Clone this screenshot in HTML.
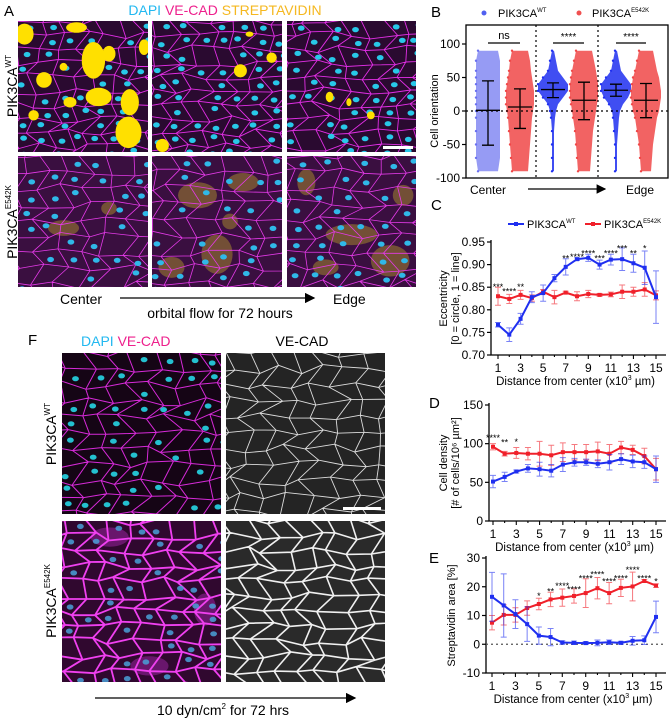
<!DOCTYPE html>
<html><head><meta charset="utf-8">
<style>
html,body{margin:0;padding:0;background:#fff;}
svg{display:block;font-family:"Liberation Sans",Arial,sans-serif;}
</style></head>
<body>
<svg id="fig" width="670" height="720" viewBox="0 0 670 720" xmlns="http://www.w3.org/2000/svg">
<defs>
<marker id="arr" markerWidth="8" markerHeight="8" refX="7" refY="4" orient="auto"><path d="M0,0 L8,4 L0,8 z" fill="#000"/></marker>
</defs>
<text x="4" y="16" font-size="15">A</text>
<text x="431" y="17" font-size="15">B</text>
<text x="431" y="210" font-size="15">C</text>
<text x="429" y="408" font-size="15">D</text>
<text x="429" y="563" font-size="15">E</text>
<text x="28" y="345" font-size="15">F</text>

<text x="225" y="15" font-size="14" text-anchor="middle"><tspan fill="#22b8f0">DAPI</tspan> <tspan fill="#ee1f8c">VE-CAD</tspan> <tspan fill="#f5b820">STREPTAVIDIN</tspan></text>
<text transform="translate(17,86) rotate(-90)" font-size="14" text-anchor="middle">PIK3CA<tspan font-size="8" dy="-6">WT</tspan></text>
<text transform="translate(17,222) rotate(-90)" font-size="14" text-anchor="middle">PIK3CA<tspan font-size="8" dy="-6">E542K</tspan></text>
<g id="imgsA"></g>
<text x="60" y="304" font-size="14">Center</text>
<line x1="120" y1="298" x2="314" y2="298" stroke="#000" stroke-width="1.3" marker-end="url(#arr)"/>
<text x="333" y="304" font-size="14">Edge</text>
<text x="220" y="318" font-size="14" text-anchor="middle">orbital flow for 72 hours</text>

<text x="81" y="346" font-size="14"><tspan fill="#22b8f0">DAPI</tspan> <tspan fill="#ee1f8c">VE-CAD</tspan></text>
<text x="302" y="346" font-size="14" text-anchor="middle">VE-CAD</text>
<text transform="translate(56,434) rotate(-90)" font-size="14" text-anchor="middle">PIK3CA<tspan font-size="8" dy="-6">WT</tspan></text>
<text transform="translate(56,601) rotate(-90)" font-size="14" text-anchor="middle">PIK3CA<tspan font-size="8" dy="-6">E542K</tspan></text>
<g id="imgsF"></g>
<line x1="95" y1="698" x2="355" y2="698" stroke="#000" stroke-width="1.3" marker-end="url(#arr)"/>
<text x="223" y="715" font-size="14" text-anchor="middle">10 dyn/cm<tspan font-size="8" dy="-6">2</tspan><tspan dy="6"> for 72 hrs</tspan></text>

<g id="panelB"></g>
<g id="panelC"></g>
<g id="panelD"></g>
<g id="panelE"></g>
</svg>
<script>
const bGroups = ["Center-WT","Center-E542K","Mid-WT","Mid-E542K","Edge-WT","Edge-E542K"];
const bMeans = [1, 6, 32, 16, 31, 16];
const bLow = [-51, -26, 20, -13, 22, -10];
const bHigh = [45, 33, 42, 43, 40, 41];
const bLevels = [-90, -70, -50, -30, -10, 0, 10, 20, 30, 40, 50, 60, 75, 90];
const bWidthWT_C = [10, 12, 12, 12, 12, 12, 12, 12, 12, 12, 12, 12, 12, 10];
const bWidthMut_C = [8, 9, 10, 11, 12, 13, 14, 14, 14, 13, 12, 11, 10, 8];
const bWidthWT_M = [1, 1, 1, 1, 2, 3, 5, 10, 15, 15, 10, 5, 3, 1];
const bWidthMut_M = [6, 7, 8, 9, 11, 12, 13, 14, 14, 14, 13, 12, 10, 8];
const bWidthWT_E = [1, 1, 1, 2, 3, 4, 7, 12, 15, 15, 10, 5, 3, 1];
const bWidthMut_E = [5, 6, 7, 9, 11, 13, 14, 15, 15, 14, 13, 11, 9, 7];
const bSig = ["ns", "****", "****"];
const bTicks = [100, 50, 0, -50, -100];

const dist = [1,2,3,4,5,6,7,8,9,10,11,12,13,14,15];
const distTicks = [1,3,5,7,9,11,13,15];

const cWT = [0.767,0.745,0.780,0.828,0.837,0.870,0.895,0.912,0.915,0.900,0.911,0.912,0.903,0.893,0.828];
const cWTerr = [0.005,0.015,0.012,0.012,0.018,0.008,0.018,0.003,0.008,0.010,0.012,0.025,0.020,0.037,0.058];
const cMut = [0.830,0.824,0.833,0.826,0.840,0.828,0.838,0.830,0.835,0.833,0.834,0.840,0.840,0.845,0.832];
const cMutErr = [0.020,0.010,0.010,0.007,0.005,0.015,0.003,0.010,0.008,0.003,0.005,0.015,0.010,0.015,0.010];
const cStars = ["***","****","**","","","","**","****","****","***","****","***","**","*",""];
const cStarY = [0.855,0.845,0.855,0,0,0,0.918,0.921,0.929,0.918,0.929,0.940,0.929,0.940,0];
const cTicks = [0.95,0.90,0.85,0.80,0.75,0.70];

const dMut = [96,87,88,87,87,85,89,89,89,90,87,95,92,84,67];
const dMutErr = [4,3,7,8,16,13,12,10,10,12,12,8,6,10,14];
const dWT = [51,57,64,68,67,65,73,76,76,74,76,80,77,76,67];
const dWTerr = [8,6,2,5,9,8,9,5,4,5,10,7,8,8,17];
const dStars = ["****","**","*","","","","","","","","","","","",""];
const dStarY = [110,104,105,0,0,0,0,0,0,0,0,0,0,0,0];
const dTicks = [150,100,50,0];

const eMut = [7.5,10.2,10.2,12.6,14,15.6,16.2,16.8,17.8,19.5,17.8,19.6,20.1,22,20.4];
const eMutErr = [2.5,3.5,2.5,2.5,2,2.5,3,2.5,5,3.7,3.7,3,5,0.5,0.6];
const eWT = [16.5,13.5,10.5,7,3,2.5,0.6,0.5,0.4,0.5,0.7,0.5,1.2,1.4,9.5];
const eWTerr = [8.5,11,5,6,3,3,0.6,0.6,0.5,1,0.8,0.5,1.5,1.5,5.5];
const eStars = ["","","","","*","**","****","****","****","****","****","****","****","****","*"];
const eStarY = [0,0,0,0,17.5,19,21,19.8,23.5,25,22.5,23.5,26.5,23.5,22.5];
const eTicks = [30,20,10,0,-10];

const NS = "http://www.w3.org/2000/svg";
function mk(parent, tag, attrs, text){
  const el = document.createElementNS(NS, tag);
  for (const k in attrs) el.setAttribute(k, attrs[k]);
  if (text !== undefined) el.textContent = text;
  parent.appendChild(el);
  return el;
}
const BLUE = "#1f2ff0", RED = "#f0202a";

(function(){
  const g = document.getElementById('panelB');
  const x0 = 466, x1 = 668, yTop = 25, yBot = 178;
  const y = v => 111 - v * 0.67;
  const gx = [488, 520, 553, 584, 616, 646];
  const widths = [bWidthWT_C, bWidthMut_C, bWidthWT_M, bWidthMut_M, bWidthWT_E, bWidthMut_E];
  const fr = mk(g,'rect',{x:x0,y:yTop,width:x1-x0,height:yBot-yTop,fill:"none",stroke:"#000","stroke-width":1.3});
   
  bTicks.forEach(t=>{
    const l = mk(g,'line',{x1:x0-4,x2:x0,y1:y(t),y2:y(t),stroke:"#000","stroke-width":1.2});
     
    const tx = mk(g,'text',{x:x0-6,y:y(t)+4,"font-size":12,"text-anchor":"end"},String(t));
     
  });
  const yl = mk(g,'text',{transform:`translate(438,${y(0)}) rotate(-90)`,"font-size":11,"text-anchor":"middle"},"Cell orientation");
   
  bGroups.forEach((name,i)=>{
    const col = i%2===0 ? (i===0 ? "#6a70f0" : BLUE) : "#f04848";
    const w = widths[i];
    let pts = [];
    bLevels.forEach((lv,j)=>pts.push(`${gx[i]-w[j]},${y(lv)}`));
    for(let j=bLevels.length-1;j>=0;j--) pts.push(`${gx[i]+w[j]},${y(bLevels[j])}`);
    const p = mk(g,'polygon',{points:pts.join(' '),fill:col,opacity:i===0?0.7:0.85});
     
    bLevels.forEach((lv,j)=>{
      const c = mk(g,'circle',{cx:gx[i]-w[j],cy:y(lv),r:1.2,fill:col});
       
    });
    const eb = mk(g,'path',{d:`M${gx[i]},${y(bLow[i])}V${y(bHigh[i])}M${gx[i]-6},${y(bLow[i])}h12M${gx[i]-6},${y(bHigh[i])}h12M${gx[i]-12},${y(bMeans[i])}h24`,stroke:"#000","stroke-width":1.3,fill:"none"});
     
  });
  const z = mk(g,'line',{x1:x0,x2:x1,y1:y(0),y2:y(0),stroke:"#000","stroke-dasharray":"2,3","stroke-width":1.2});
   
  [536, 598].forEach(xx=>{
    const d = mk(g,'line',{x1:xx,x2:xx,y1:yTop,y2:yBot,stroke:"#000","stroke-dasharray":"2,3","stroke-width":1.2});
     
  });
  bSig.forEach((s,k)=>{
    const xa = gx[2*k], xb = gx[2*k+1];
    const l = mk(g,'line',{x1:xa,x2:xb,y1:43,y2:43,stroke:"#000","stroke-width":1.2});
     
    const t = mk(g,'text',{x:(xa+xb)/2,y:s==="ns"?39:40,"font-size":s==="ns"?11:10,"text-anchor":"middle"},s);
     
  });
  const c1 = mk(g,'text',{x:488,y:194,"font-size":12,"text-anchor":"middle"},"Center");
   
  const ar = mk(g,'line',{x1:528,y1:189,x2:605,y2:189,stroke:"#000","stroke-width":1.2,"marker-end":"url(#arr)"});
   
  const c2 = mk(g,'text',{x:640,y:194,"font-size":12,"text-anchor":"middle"},"Edge");
   
  const ld1 = mk(g,'circle',{cx:484,cy:13,r:2.5,fill:"#5060f0"});
   
  const lt1 = mk(g,'text',{x:498,y:17,"font-size":11},"PIK3CA");
   
  mk(lt1,'tspan',{"font-size":6,dy:-5},"WT");
  const ld2 = mk(g,'circle',{cx:579,cy:13,r:2.5,fill:"#f05050"});
   
  const lt2 = mk(g,'text',{x:592,y:17,"font-size":11},"PIK3CA");
   
  mk(lt2,'tspan',{"font-size":6,dy:-5},"E542K");
})();

function linePanel(id, opt){
  const g = document.getElementById(id);
  const {axX, xA, xB, yTop, yBot, vTop, vBot, ticks, fmt, wt, wtE, mut, mutE, stars, starY, zeroLine, titles, titleX, key} = opt;
  const x = d => xA + (d-1)*(xB-xA)/14;
  const y = v => yTop + (vTop - v)*(yBot-yTop)/(vTop-vBot);
  const ax = mk(g,'path',{d:`M${axX},${yTop-2}V${yBot}H${xB+10}`,stroke:"#000","stroke-width":1.3,fill:"none"});
   
  ticks.forEach(t=>{
    const l = mk(g,'line',{x1:axX-4,x2:axX,y1:y(t),y2:y(t),stroke:"#000","stroke-width":1.2});
     
    const tx = mk(g,'text',{x:axX-6,y:y(t)+4,"font-size":12,"text-anchor":"end"},fmt(t));
     
  });
  dist.forEach(d=>{
    const l = mk(g,'line',{x1:x(d),x2:x(d),y1:yBot,y2:yBot+(d%2?4:2),stroke:"#000","stroke-width":1.1});
     
  });
  distTicks.forEach(d=>{
    const tx = mk(g,'text',{x:x(d),y:yBot+17,"font-size":12,"text-anchor":"middle"},String(d));
     
  });
  const xt = mk(g,'text',{x:(axX+xB)/2+2,y:yBot+30,"font-size":11.5,"text-anchor":"middle"},"Distance from center (x10");
   
  mk(xt,'tspan',{"font-size":7,dy:-5},"3");
  mk(xt,'tspan',{dy:5}," µm)");
  titles.forEach((t,i)=>{
    const tt = mk(g,'text',{transform:`translate(${titleX[i]},${(yTop+yBot)/2}) rotate(-90)`,"font-size":11,"text-anchor":"middle"},t);
     
  });
  if (zeroLine){
    const z = mk(g,'line',{x1:axX,x2:xB+10,y1:y(0),y2:y(0),stroke:"#555","stroke-dasharray":"2,3","stroke-width":1.2});
     
  }
  [[mut,mutE,RED,'e542k'],[wt,wtE,BLUE,'wt']].forEach(([vals,errs,col,nm])=>{
    vals.forEach((v,i)=>{
      const xx = x(dist[i]);
      const e = mk(g,'path',{d:`M${xx},${y(v-errs[i])}V${y(v+errs[i])}M${xx-3},${y(v-errs[i])}h6M${xx-3},${y(v+errs[i])}h6`,stroke:col,"stroke-width":1,opacity:0.6,fill:"none"});
       
    });
    const pl = mk(g,'polyline',{points:vals.map((v,i)=>`${x(dist[i])},${y(v)}`).join(' '),fill:"none",stroke:col,"stroke-width":2});
     
    vals.forEach((v,i)=>{
      const m = mk(g,'rect',{x:x(dist[i])-2,y:y(v)-2,width:4,height:4,fill:col});
       
    });
  });
  stars.forEach((s,i)=>{
    if(!s) return;
    const t = mk(g,'text',{x:x(dist[i]),y:y(starY[i])+5,"font-size":9,"text-anchor":"middle"},s);
     
  });
  return {x,y,g};
}

const pc = linePanel('panelC',{axX:491,xA:498,xB:656,yTop:242,yBot:355,vTop:0.95,vBot:0.70,ticks:cTicks,fmt:t=>t.toFixed(2),wt:cWT,wtE:cWTerr,mut:cMut,mutE:cMutErr,stars:cStars,starY:cStarY,zeroLine:false,titles:["Eccentricity","[0 = circle, 1 = line]"],titleX:[447,459],key:"c"});
(function(){
  const g = pc.g;
  const a = mk(g,'path',{d:"M508,224h16",stroke:BLUE,"stroke-width":2});  
  const am = mk(g,'rect',{x:514,y:222,width:4,height:4,fill:BLUE});  
  const t1 = mk(g,'text',{x:527,y:228,"font-size":11},"PIK3CA");  
  mk(t1,'tspan',{"font-size":6,dy:-5},"WT");
  const b = mk(g,'path',{d:"M585,224h16",stroke:RED,"stroke-width":2});  
  const bm = mk(g,'rect',{x:591,y:222,width:4,height:4,fill:RED});  
  const t2 = mk(g,'text',{x:604,y:228,"font-size":11},"PIK3CA");  
  mk(t2,'tspan',{"font-size":6,dy:-5},"E542K");
})();
linePanel('panelD',{axX:489,xA:493,xB:656,yTop:405,yBot:521,vTop:150,vBot:0,ticks:dTicks,fmt:t=>String(t),wt:dWT,wtE:dWTerr,mut:dMut,mutE:dMutErr,stars:dStars,starY:dStarY,zeroLine:false,titles:["Cell density","[# of cells/10⁶ µm²]"],titleX:[447,459],key:"d"});
linePanel('panelE',{axX:486,xA:492,xB:656,yTop:558,yBot:673,vTop:30,vBot:-10,ticks:eTicks,fmt:t=>String(t),wt:eWT,wtE:eWTerr,mut:eMut,mutE:eMutErr,stars:eStars,starY:eStarY,zeroLine:true,titles:["Streptavidin area [%]"],titleX:[455],key:"e"});

// Decorative micrographs (textures only)
let seed = 7;
function rnd(){ seed = (seed*16807) % 2147483647; return (seed-1)/2147483646; }
let clipN = 0;
function micro(parent, x0, y0, w, h, o, name){
  const g = mk(parent,'g',{});
  
  
  const cid = 'clip'+(clipN++);
  const cp = mk(g,'clipPath',{id:cid});
  mk(cp,'rect',{x:x0,y:y0,width:w,height:h});
  const inner = mk(g,'g',{'clip-path':`url(#${cid})`});
  mk(inner,'rect',{x:x0,y:y0,width:w,height:h,fill:o.bg});
  (o.blobs||[]).forEach(b=>mk(inner,'ellipse',{cx:x0+b[0]*w,cy:y0+b[1]*h,rx:b[2]*w,ry:b[3]*h,fill:o.blobCol,opacity:o.blobOp||1}));
  const sx = o.sp*1.4, sy = o.sp;
  const pts = [];
  for(let r=-1; r<h/sy+2; r++){
    const row=[];
    for(let c=-1; c<w/sx+2; c++){
      row.push([x0+c*sx+(r%2?sx/2:0)+(rnd()-0.5)*sx*0.6 - r*1.5, y0+r*sy+(rnd()-0.5)*sy*0.6]);
    }
    pts.push(row);
  }
  let d='';
  for(let r=0;r<pts.length;r++){
    for(let c=0;c<pts[r].length;c++){
      const p=pts[r][c];
      if(c+1<pts[r].length){const q=pts[r][c+1]; d+=`M${p[0].toFixed(1)},${p[1].toFixed(1)}L${q[0].toFixed(1)},${q[1].toFixed(1)}`;}
      if(r+1<pts.length){const q=pts[r+1][c]; d+=`M${p[0].toFixed(1)},${p[1].toFixed(1)}L${q[0].toFixed(1)},${q[1].toFixed(1)}`;}
    }
  }
  mk(inner,'path',{d:d,stroke:o.line,"stroke-width":o.lw,fill:"none",opacity:o.lop||1});
  if(o.nuc){
    for(let r=0;r<pts.length-1;r++){
      for(let c=0;c<pts[r].length-1;c++){
        if(rnd()<o.nucP){
          const p=pts[r][c], q=pts[r+1][c+1]||pts[r][c+1];
          mk(inner,'ellipse',{cx:((p[0]+q[0])/2).toFixed(1),cy:((p[1]+q[1])/2).toFixed(1),rx:3.4,ry:2.6,fill:o.nuc,opacity:o.nucOp||1});
        }
      }
    }
  }
  (o.top||[]).forEach(b=>mk(inner,'ellipse',{cx:x0+b[0]*w,cy:y0+b[1]*h,rx:b[2]*w,ry:b[3]*h,fill:o.topCol}));
  if(o.scale) mk(g,'rect',{x:o.scale[0],y:o.scale[1],width:o.scale[2],height:3,fill:"#fff"});
  return g;
}
const A = document.getElementById('imgsA');
const fl = {bg:"#2a0a30",line:"#e22fe6",lw:0.9,sp:14,nuc:"#28c8e8",nucP:0.75,topCol:"#ffe000"};
micro(A,18,21,130,131,Object.assign({},fl,{top:[[0.05,0.1,0.07,0.08],[0.58,0.3,0.09,0.14],[0.45,0.05,0.08,0.04],[0.86,0.62,0.07,0.1],[0.85,0.85,0.1,0.12],[0.2,0.45,0.06,0.06],[0.62,0.58,0.1,0.07],[0.4,0.62,0.05,0.04],[0.97,0.2,0.04,0.06],[0.35,0.35,0.03,0.03],[0.12,0.72,0.04,0.04],[0.7,0.25,0.05,0.06]]}),'image-wt-center');
micro(A,152,21,130,131,Object.assign({},fl,{top:[[0.68,0.38,0.05,0.05],[0.92,0.28,0.04,0.04],[0.08,0.95,0.05,0.05],[0.75,0.1,0.03,0.02]]}),'image-wt-mid');
micro(A,287,21,129,131,Object.assign({},fl,{top:[[0.33,0.58,0.03,0.04],[0.65,0.72,0.03,0.03],[0.48,0.62,0.02,0.03]],scale:[383,146,30]}),'image-wt-edge');
const flm = {bg:"#3a0f40",line:"#e43ae8",lw:0.8,sp:16,nuc:"#30b8e8",nucP:0.65,blobCol:"#9a7a30",blobOp:0.6};
micro(A,18,156,130,131,Object.assign({},flm,{blobs:[[0.35,0.55,0.12,0.06],[0.7,0.4,0.06,0.05]]}),'image-mut-center');
micro(A,152,156,130,131,Object.assign({},flm,{blobs:[[0.35,0.3,0.15,0.1],[0.7,0.2,0.12,0.07],[0.5,0.75,0.12,0.15],[0.15,0.85,0.1,0.08],[0.6,0.5,0.06,0.06]]}),'image-mut-mid');
micro(A,287,156,129,131,Object.assign({},flm,{blobs:[[0.5,0.6,0.2,0.08],[0.8,0.8,0.15,0.12],[0.15,0.2,0.07,0.1],[0.9,0.3,0.08,0.08],[0.3,0.85,0.1,0.06]]}),'image-mut-edge');
const F = document.getElementById('imgsF');
micro(F,62,353,159,161,{bg:"#150515",line:"#d62ad8",lw:1,sp:16,nuc:"#24c0d0",nucP:0.7},'f-image-wt-merge');
micro(F,226,353,159,161,{bg:"#242424",line:"#dcdcdc",lw:0.9,sp:16,scale:[343,507,38]},'f-image-wt-vecad');
micro(F,62,521,159,161,{bg:"#30082f",line:"#f040f0",lw:1.8,sp:15,nuc:"#4aa0d8",nucP:0.5,nucOp:0.85,blobCol:"#c02cc8",blobOp:0.4,blobs:[[0.3,0.1,0.12,0.06],[0.9,0.55,0.07,0.1],[0.55,0.9,0.12,0.06]]},'f-image-mut-merge');
micro(F,226,521,159,161,{bg:"#2a2a2a",line:"#f0f0f0",lw:1.6,sp:15},'f-image-mut-vecad');
</script>
</body></html>
